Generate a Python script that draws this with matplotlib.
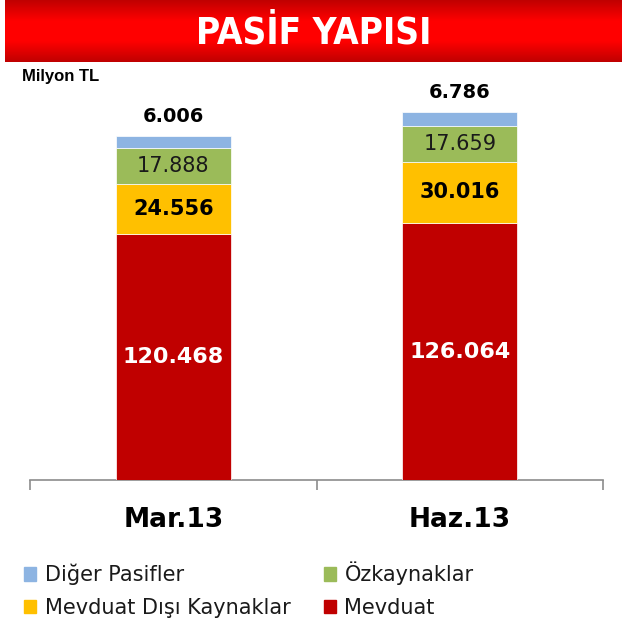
import numpy as np
import matplotlib
matplotlib.use("Agg")
import matplotlib.pyplot as plt
import matplotlib.patches as mpatches
from matplotlib.colors import LinearSegmentedColormap

# ── Veri ──────────────────────────────────────────────────────────────────────
donemler = ["Mar.13", "Haz.13"]
mevduat = [120468, 126064]
mevduat_disi = [24556, 30016]
ozkaynaklar = [17888, 17659]
diger = [6006, 6786]

seri_adlari = ["Mevduat", "Mevduat Dışı Kaynaklar", "Özkaynaklar", "Diğer Pasifler"]
RENKLER = ["#C00000", "#FFC000", "#9BBB59", "#8DB4E2"]


def tr(v):
    return f"{v:,}".replace(",", ".")


plt.rcParams["font.family"] = "DejaVu Sans"

fig = plt.figure(figsize=(6.22, 6.30), dpi=100)
fig.patch.set_facecolor("white")

# ── Başlık bandı (gradyan) ────────────────────────────────────────────────────
bax = fig.add_axes([5 / 622, 1 - 62 / 630, 617 / 622, 62 / 630])
grad_cmap = LinearSegmentedColormap.from_list(
    "band", ["#C00000", "#FF0000", "#FF0000", "#C00000"])
bax.imshow(np.linspace(0, 1, 100).reshape(-1, 1), aspect="auto",
           cmap=grad_cmap, extent=[0, 1, 0, 1])
bax.axis("off")
bax.text(0.5, 0.47, "PASİF YAPISI", color="white", fontsize=26.5,
         fontweight="bold", family="DejaVu Sans", fontstretch="condensed",
         ha="center", va="center", transform=bax.transAxes)

# ── Grafik ────────────────────────────────────────────────────────────────────
ax = fig.add_axes([30 / 622, 1 - 480 / 630, 573 / 622, 407.6 / 630])
x = np.arange(len(donemler))
seriler = [mevduat, mevduat_disi, ozkaynaklar, diger]
alt = np.zeros(len(donemler))
for ad, deger, renk in zip(seri_adlari, seriler, RENKLER):
    ax.bar(x, deger, bottom=alt, width=0.4, color=renk, label=ad,
           edgecolor="white", linewidth=0.5, zorder=3)
    alt = alt + np.array(deger)

for i in range(len(donemler)):
    b0 = 0
    # Mevduat
    ax.text(i, b0 + mevduat[i] / 2, tr(mevduat[i]), ha="center", va="center",
            color="white", fontsize=16, fontweight="bold", zorder=4)
    b0 += mevduat[i]
    ax.text(i, b0 + mevduat_disi[i] / 2, tr(mevduat_disi[i]), ha="center",
            va="center", color="black", fontsize=15, fontweight="bold", zorder=4)
    b0 += mevduat_disi[i]
    ax.text(i, b0 + ozkaynaklar[i] / 2, tr(ozkaynaklar[i]), ha="center",
            va="center", color="#1a1a1a", fontsize=15, zorder=4)
    b0 += ozkaynaklar[i]
    ax.annotate(tr(diger[i]), xy=(i, b0 + diger[i]), xytext=(0, 7),
                textcoords="offset points", ha="center", va="bottom",
                fontsize=14, fontweight="bold", color="black")

ax.set_xlim(-0.5, 1.5)
ax.set_ylim(0, 200000)
for s in ["top", "right", "left"]:
    ax.spines[s].set_visible(False)
ax.spines["bottom"].set_color("#8C8C8C")
ax.spines["bottom"].set_linewidth(1.2)
ax.set_yticks([])
ax.set_xticks([])
ax.set_xticks([-0.5, 0.5, 1.5], minor=True)
ax.tick_params(axis="x", which="minor", length=7, width=1.2, color="#8C8C8C",
               labelbottom=False)
ax.set_facecolor("none")

for i, d in enumerate(donemler):
    ax.text(i, -0.098, d, transform=ax.get_xaxis_transform(), ha="center",
            va="center", fontsize=19, fontweight="bold", color="black")

fig.text(22 / 622, 1 - 76 / 630, "Milyon TL", family="Liberation Sans",
         fontsize=12, fontweight="bold", ha="left", va="center")

# ── Lejant ────────────────────────────────────────────────────────────────────
el = {ad: mpatches.Patch(color=r, label=ad) for ad, r in zip(seri_adlari, RENKLER)}
sira = ["Diğer Pasifler", "Mevduat Dışı Kaynaklar", "Özkaynaklar", "Mevduat"]
fig.legend(handles=[el[s] for s in sira], loc="upper left",
           bbox_to_anchor=(5 / 622, 1 - 543 / 630), ncol=2, frameon=False,
           fontsize=15, handlelength=0.6, handleheight=0.6, handletextpad=0.4,
           columnspacing=1.6, labelspacing=0.6, labelcolor="#1a1a1a")

fig.savefig("out.png", dpi=100, facecolor="white")
